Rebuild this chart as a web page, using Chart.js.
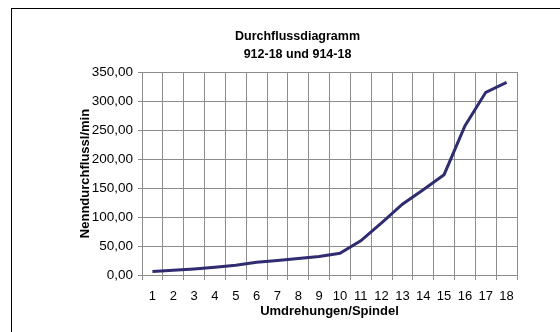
<!DOCTYPE html>
<html>
<head>
<meta charset="utf-8">
<script src="https://cdn.jsdelivr.net/npm/chart.js@4/dist/chart.umd.min.js"></script>
<style>
  html, body { margin: 0; padding: 0; background: #fff; overflow: hidden; }
  body { width: 560px; height: 332px; position: relative; }
  #box {
    position: absolute; left: 11px; top: 8px;
    width: 552px; height: 340px;
    border: 1px solid #000;
  }
</style>
</head>
<body>
<div id="box"><canvas id="chart" width="552" height="340"></canvas></div>
<script>
  // Umdrehungen der Spindel und zugehoeriger Nenndurchfluss
  const umdrehungen = ['1', '2', '3', '4', '5', '6', '7', '8', '9', '10', '11', '12', '13', '14', '15', '16', '17', '18'];
  const durchfluss = [6, 8, 10.5, 13.5, 17, 22, 25, 28.5, 32, 37.5, 59, 90, 122, 147, 173, 257, 315, 332];
  const titelZeilen = ['Durchflussdiagramm', '912-18 und 914-18'];

  const schrift = 'Liberation Sans, Arial, sans-serif';
  const gitter = '#8c8c8c';

  const chart = new Chart(document.getElementById('chart').getContext('2d'), {
    type: 'line',
    data: {
      labels: umdrehungen,
      datasets: [{
        label: 'Durchfluss',
        data: durchfluss,
        borderColor: '#2f2c70',
        borderWidth: 3,
        pointRadius: 0,
        fill: false,
        tension: 0
      }]
    },
    options: {
      responsive: false,
      animation: false,
      layout: {
        padding: { left: 66, right: 47, top: 0, bottom: 30 }
      },
      plugins: {
        legend: { display: false },
        tooltip: { enabled: false },
        title: {
          display: true,
          text: titelZeilen,
          color: '#000',
          font: { family: schrift, size: 12.5, weight: 'bold', lineHeight: 1.4 },
          padding: { top: 19, bottom: 9 }
        }
      },
      scales: {
        x: {
          offset: true,
          grid: {
            offset: true,
            color: gitter,
            tickLength: 5,
            drawTicks: true
          },
          border: { color: gitter },
          ticks: {
            color: '#000',
            padding: 9,
            maxRotation: 0,
            autoSkip: false,
            font: { family: schrift, size: 13, lineHeight: 1.1 }
          },
          title: {
            display: true,
            text: 'Umdrehungen/Spindel',
            color: '#000',
            padding: 0,
            font: { family: schrift, size: 13, weight: 'bold', lineHeight: 1.2 }
          },
          afterFit: function (scale) { scale.height = 44; }
        },
        y: {
          min: 0,
          max: 350,
          grid: { color: gitter, tickLength: 4 },
          border: { color: gitter },
          ticks: {
            stepSize: 50,
            color: '#000',
            padding: 5,
            font: { family: schrift, size: 13.5 },
            callback: v => v.toFixed(2).replace('.', ',')
          },
          title: {
            display: true,
            text: 'Nenndurchflussl/min',
            color: '#000',
            padding: 0,
            font: { family: schrift, size: 13, weight: 'bold', lineHeight: 1.2 }
          },
          afterFit: function (scale) { scale.width = 64; }
        }
      }
    }
  });
</script>
</body>
</html>
